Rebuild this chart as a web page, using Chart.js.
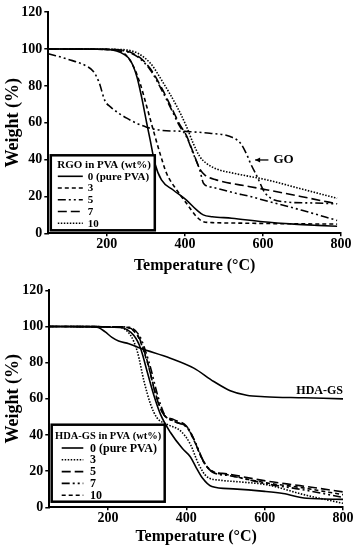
<!DOCTYPE html>
<html>
<head>
<meta charset="utf-8">
<script src="https://cdn.jsdelivr.net/npm/chart.js@4.4.0/dist/chart.umd.min.js"></script>
<style>
    body { margin: 0; background: #fff; }
    canvas { display: block; }
</style>
</head>
<body>
<canvas id="chart-rgo" width="361" height="280"></canvas>
<canvas id="chart-hda" width="361" height="270"></canvas>
<script>
/* DATA - top panel (RGO in PVA) */
const xTicks = [200, 400, 600, 800];
const rgoLabels = ['0 (pure PVA)', '3', '5', '7', '10'];

const rgo0T = [50, 150, 200, 225, 245, 260, 277, 289, 302, 311, 323, 340, 370, 404, 430, 447, 470, 520, 600, 680, 740, 790];
const rgo0W = [100, 100, 99.8, 99, 97, 94, 85, 74, 60, 50.7, 38, 29, 23.5, 18, 12.7, 10, 9, 8.2, 6.3, 5, 4.3, 3.8];

const rgo3T = [50, 200, 243, 268, 285, 302, 319, 336, 353, 379, 404, 430, 447, 470, 550, 650, 790];
const rgo3W = [100, 99.8, 97.8, 90.6, 81.5, 69, 56, 43.5, 32.6, 23.5, 16.3, 9, 6.3, 5.8, 5.5, 5.2, 5];

const rgo5T = [50, 220, 277, 311, 340, 366, 387, 404, 421, 438, 448, 470, 525, 567, 610, 700, 790];
const rgo5W = [100, 99.7, 96, 88.8, 78, 67, 58, 52.5, 43.5, 34.4, 27, 25, 22, 20, 17.5, 12.5, 7];

const rgo7T = [50, 220, 277, 311, 340, 366, 387, 404, 421, 438, 452, 480, 567, 650, 720, 790];
const rgo7W = [100, 99.7, 96.5, 89.5, 79, 68, 59, 53, 44, 35, 31.5, 29, 25.3, 22, 19, 16];

const rgo10T = [50, 220, 268, 311, 345, 379, 404, 421, 438, 455, 480, 525, 610, 700, 790];
const rgo10W = [100, 99.8, 98.7, 92.4, 81.5, 69, 58, 49, 41.7, 38, 35, 32.6, 29, 24, 19];

const goT = [50, 100, 150, 165, 180, 195, 210, 251, 302, 336, 400, 464, 516, 542, 559, 568, 585, 606, 660, 720, 790];
const goW = [97.5, 94.5, 90.5, 88, 82, 72, 68.5, 62.5, 57.6, 56, 55.3, 54.3, 52.5, 49, 42.5, 38, 30.8, 21.7, 17, 16.5, 16];

/* DATA - bottom panel (HDA-GS in PVA) */
const hdaLabels = ['0 (pure PVA)', '3', '5', '7', '10'];

const hda0T = [50, 230, 266, 283, 300, 317, 334, 359, 390, 410, 425, 440, 465, 520, 600, 647, 707, 800];
const hda0W = [100, 99.5, 95, 88, 75, 62, 51.4, 41.5, 32.5, 28, 22, 16.5, 11.5, 10.2, 8.8, 7.6, 5, 4.4];

const hda3T = [50, 225, 258, 275, 292, 309, 325, 351, 385, 410, 431, 453, 486, 540, 605, 700, 800];
const hda3W = [100, 99.7, 95, 86, 69.6, 56.8, 49.5, 45.9, 42.3, 35, 24, 16.8, 15, 14, 12.5, 7, 2.2];

const hda5T = [50, 235, 275, 300, 322, 340, 368, 400, 418, 440, 461, 503, 605, 690, 800];
const hda5W = [100, 99.8, 95.5, 81, 62, 52, 48.5, 45, 38, 27, 20.5, 18.5, 14.5, 12, 8.5];

const hda7T = [50, 240, 280, 305, 328, 345, 370, 405, 423, 445, 466, 510, 605, 690, 800];
const hda7W = [100, 99.8, 95, 80, 61, 51, 47.5, 43.5, 36, 25, 19.5, 17.5, 13, 10, 5.5];

const hda10T = [50, 235, 275, 300, 324, 342, 368, 402, 420, 442, 463, 505, 605, 690, 800];
const hda10W = [100, 99.8, 95, 80.5, 61, 51.4, 47.7, 44, 36.8, 25.9, 20.4, 18, 13.5, 11, 7];

const hdaGsT = [50, 150, 175, 193, 210, 227, 253, 283, 359, 419, 470, 512, 554, 600, 700, 800];
const hdaGsW = [100, 100, 99.5, 97, 94, 92, 90.5, 88, 82.5, 77, 69.6, 64.5, 62, 61.2, 60.6, 60];

/* STYLE */
const SERIF = '"Liberation Serif", "Times New Roman", serif';
const SOLID = [];
const SHORT = [4, 3];
const LONG = [9, 4];
const DASHDOTDOT = [8, 3, 2, 3, 2, 3];
const DOTTED = [1.5, 1.5];

function series(label, temps, weights, dash, inLegend) {
    return {
        label,
        data: temps.map((t, i) => ({ x: t, y: weights[i] })),
        borderColor: '#000',
        borderWidth: 1.6,
        borderDash: dash,
        pointRadius: 0,
        cubicInterpolationMode: 'monotone',
        fill: false,
        inLegend
    };
}

/* LEGEND BOX */
function legendBox(title, b) {
    return {
        id: 'legendBox',
        afterDatasetsDraw(chart) {
            const { ctx, chartArea } = chart;
            const x0 = chartArea.left + b.dx;
            const y0 = chartArea.bottom - b.dy - b.h;
            ctx.save();
            ctx.fillStyle = '#fff';
            ctx.fillRect(x0, y0, b.w, b.h);
            ctx.lineWidth = 2.5;
            ctx.strokeStyle = '#000';
            ctx.strokeRect(x0, y0, b.w, b.h);
            ctx.fillStyle = '#000';
            ctx.textBaseline = 'middle';
            ctx.font = `bold ${b.titleSize}px ${SERIF}`;
            ctx.fillText(title, x0 + b.titleX, y0 + b.titleY);
            ctx.font = `bold ${b.size}px ${SERIF}`;
            let row = 0;
            chart.data.datasets.forEach(ds => {
                if (!ds.inLegend) return;
                const y = y0 + b.rowY + row * b.step;
                ctx.setLineDash(ds.borderDash);
                ctx.lineWidth = ds.borderWidth;
                ctx.beginPath();
                ctx.moveTo(x0 + b.lineX0, y);
                ctx.lineTo(x0 + b.lineX1, y);
                ctx.stroke();
                ctx.setLineDash([]);
                ctx.fillText(ds.label, x0 + b.textX, y + 0.5);
                row++;
            });
            ctx.restore();
        }
    };
}

/* TEXT NOTES */
function notes(list) {
    return {
        id: 'notes',
        afterDatasetsDraw(chart) {
            const { ctx, scales } = chart;
            ctx.save();
            ctx.fillStyle = '#000';
            ctx.strokeStyle = '#000';
            ctx.textBaseline = 'middle';
            list.forEach(n => {
                const px = scales.x.getPixelForValue(n.x);
                const py = scales.y.getPixelForValue(n.y);
                ctx.font = `bold ${n.size}px ${SERIF}`;
                ctx.textAlign = n.align;
                ctx.fillText(n.text, px, py);
                if (n.arrowFrom !== undefined) {
                    const a = scales.x.getPixelForValue(n.arrowFrom);
                    const b = scales.x.getPixelForValue(n.arrowTo);
                    ctx.lineWidth = 1.3;
                    ctx.beginPath();
                    ctx.moveTo(a, py);
                    ctx.lineTo(b, py);
                    ctx.stroke();
                    ctx.beginPath();
                    ctx.moveTo(b, py);
                    ctx.lineTo(b + 5, py - 2.5);
                    ctx.lineTo(b + 5, py + 2.5);
                    ctx.closePath();
                    ctx.fill();
                }
            });
            ctx.restore();
        }
    };
}

function makeChart(id, datasets, cfg, plugins) {
    return new Chart(document.getElementById(id), {
        type: 'line',
        data: { datasets },
        plugins,
        options: {
            responsive: false,
            animation: false,
            layout: { padding: { top: cfg.top, right: cfg.right, left: 0, bottom: 0 } },
            plugins: { legend: { display: false }, tooltip: { enabled: false } },
            scales: {
                x: {
                    type: 'linear',
                    min: 50,
                    max: 800,
                    afterBuildTicks: s => { s.ticks = xTicks.map(v => ({ value: v })); },
                    afterFit: s => { s.height = cfg.xHeight; },
                    border: { color: '#000', width: 2 },
                    grid: { drawOnChartArea: false, color: '#000', lineWidth: 1.5, tickLength: 3 },
                    ticks: { color: '#000', padding: 0, maxRotation: 0, font: { family: SERIF, weight: 'bold', size: 14 } },
                    title: {
                        display: true,
                        text: 'Temperature (°C)',
                        color: '#000',
                        font: { family: SERIF, weight: 'bold', size: 16 },
                        padding: { top: 0, bottom: cfg.xTitlePad }
                    }
                },
                y: {
                    min: 0,
                    max: 120,
                    afterFit: s => { s.width = cfg.yWidth; },
                    border: { color: '#000', width: 2 },
                    grid: { drawOnChartArea: false, color: '#000', lineWidth: 1.5, tickLength: 4 },
                    ticks: { stepSize: 20, color: '#000', padding: 2, font: { family: SERIF, weight: 'bold', size: 14 } },
                    title: {
                        display: true,
                        text: 'Weight (%)',
                        color: '#000',
                        font: { family: SERIF, weight: 'bold', size: 18 },
                        padding: { top: 3, bottom: 0 }
                    }
                }
            }
        }
    });
}

/* TOP PANEL */
makeChart('chart-rgo', [
    series('GO', goT, goW, DASHDOTDOT, false),
    series(rgoLabels[0], rgo0T, rgo0W, SOLID, true),
    series(rgoLabels[1], rgo3T, rgo3W, SHORT, true),
    series(rgoLabels[2], rgo5T, rgo5W, DASHDOTDOT, true),
    series(rgoLabels[3], rgo7T, rgo7W, LONG, true),
    series(rgoLabels[4], rgo10T, rgo10W, DOTTED, true)
], { top: 12.2, right: 20, xHeight: 46.7, yWidth: 48.3, xTitlePad: 5 }, [
    legendBox('RGO in PVA (wt%)', {
        dx: 2.5, dy: 3, w: 104, h: 75, titleSize: 11, titleX: 6.5, titleY: 10,
        size: 11, rowY: 21, step: 11.75, lineX0: 7, lineX1: 32, textX: 37
    }),
    notes([{ text: 'GO', x: 627, y: 39.8, size: 13, align: 'left', arrowFrom: 614, arrowTo: 580 }])
]);

/* BOTTOM PANEL */
makeChart('chart-hda', [
    series('HDA-GS', hdaGsT, hdaGsW, SOLID, false),
    series(hdaLabels[0], hda0T, hda0W, SOLID, true),
    series(hdaLabels[1], hda3T, hda3W, DOTTED, true),
    series(hdaLabels[2], hda5T, hda5W, LONG, true),
    series(hdaLabels[3], hda7T, hda7W, DASHDOTDOT, true),
    series(hdaLabels[4], hda10T, hda10W, SHORT, true)
], { top: 9.3, right: 18, xHeight: 42.7, yWidth: 49.3, xTitlePad: 4 }, [
    legendBox('HDA-GS in PVA (wt%)', {
        dx: 2.4, dy: 5.6, w: 113, h: 77, titleSize: 10.5, titleX: 3.3, titleY: 11.7,
        size: 12, rowY: 23.3, step: 11.8, lineX0: 10, lineX1: 31.6, textX: 38.3
    }),
    notes([{ text: 'HDA-GS', x: 800, y: 64.6, size: 12, align: 'right' }])
]);
</script>
</body>
</html>
